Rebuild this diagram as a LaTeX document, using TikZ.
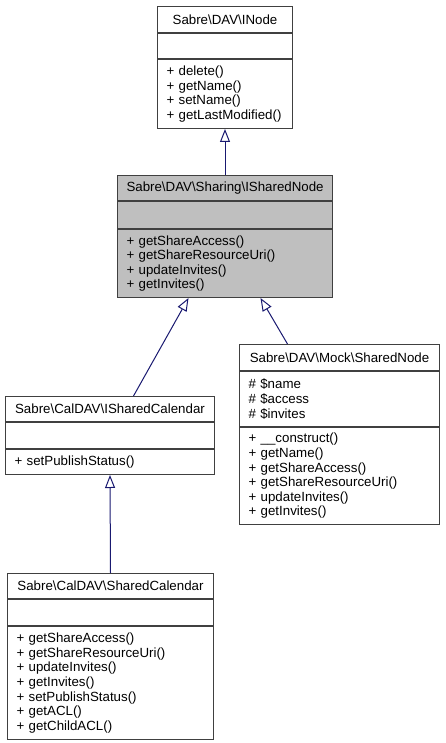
\documentclass[tikz,border=0pt]{standalone}
\usepackage{fontspec}
\setmainfont{Liberation Sans}
\usetikzlibrary{arrows.meta}
\definecolor{bordergray}{HTML}{404040}
\definecolor{nodegray}{HTML}{BFBFBF}
\definecolor{midnight}{HTML}{191970}
\tikzset{
  part/.style={draw=bordergray, line width=1pt, anchor=north west, inner xsep=9pt, inner ysep=0pt,
    font=\fontsize{13.3}{14.6}\selectfont},
  titlepart/.style={part, align=center},
  memberpart/.style={part, align=left},
  inh/.style={draw=midnight, line width=1pt, -{Triangle[open, length=13pt, width=10pt]}}
}
\newcommand\bs{\textbackslash}
\begin{document}
\begin{tikzpicture}[x=1pt, y=-1pt]
\useasboundingbox (0,0) rectangle (445,743);
% Sabre\DAV\INode
\node[titlepart, text width=117pt, minimum height=26pt] (inode-t) at (157,6) {Sabre\bs DAV\bs INode};
\node[memberpart, text width=117pt, minimum height=25pt] (inode-a) at (inode-t.south west) {};
\node[memberpart, text width=117pt, minimum height=69pt] (inode-m) at (inode-a.south west)
  {+ delete()\\+ getName()\\+ setName()\\+ getLastModified()};
% Sabre\DAV\Sharing\ISharedNode
\node[titlepart, fill=nodegray, text width=197pt, minimum height=25pt] (isn-t) at (117,175) {Sabre\bs DAV\bs Sharing\bs ISharedNode};
\node[memberpart, fill=nodegray, text width=197pt, minimum height=27pt] (isn-a) at (isn-t.south west) {};
\node[memberpart, fill=nodegray, text width=197pt, minimum height=68pt] (isn-m) at (isn-a.south west)
  {+ getShareAccess()\\+ getShareResourceUri()\\+ updateInvites()\\+ getInvites()};
% Sabre\CalDAV\ISharedCalendar
\node[titlepart, text width=191pt, minimum height=25pt] (ical-t) at (5,396) {Sabre\bs CalDAV\bs ISharedCalendar};
\node[memberpart, text width=191pt, minimum height=26pt] (ical-a) at (ical-t.south west) {};
\node[memberpart, text width=191pt, minimum height=25pt] (ical-m) at (ical-a.south west) {+ setPublishStatus()};
% Sabre\DAV\Mock\SharedNode
\node[titlepart, text width=182pt, minimum height=26pt] (mock-t) at (239,344) {Sabre\bs DAV\bs Mock\bs SharedNode};
\node[memberpart, text width=182pt, minimum height=55pt] (mock-a) at (mock-t.south west)
  {\# \$name\\\# \$access\\\# \$invites};
\node[memberpart, text width=182pt, minimum height=97pt] (mock-m) at (mock-a.south west)
  {+ \_\_construct()\\+ getName()\\+ getShareAccess()\\+ getShareResourceUri()\\+ updateInvites()\\+ getInvites()};
% Sabre\CalDAV\SharedCalendar
\node[titlepart, text width=188pt, minimum height=25pt] (scal-t) at (7,573) {Sabre\bs CalDAV\bs SharedCalendar};
\node[memberpart, text width=188pt, minimum height=26pt] (scal-a) at (scal-t.south west) {};
\node[memberpart, text width=188pt, minimum height=113pt] (scal-m) at (scal-a.south west)
  {+ getShareAccess()\\+ getShareResourceUri()\\+ updateInvites()\\+ getInvites()\\+ setPublishStatus()\\+ getACL()\\+ getChildACL()};
% inheritance
\draw[inh] (isn-t.north) -- (inode-m.south);
\draw[inh] ([xshift=23.5pt]ical-t.north) -- ([xshift=-36.5pt]isn-m.south);
\draw[inh] ([xshift=-52pt]mock-t.north) -- ([xshift=35.5pt]isn-m.south);
\draw[inh] (scal-t.north) -- (ical-m.south);
\end{tikzpicture}
\end{document}
